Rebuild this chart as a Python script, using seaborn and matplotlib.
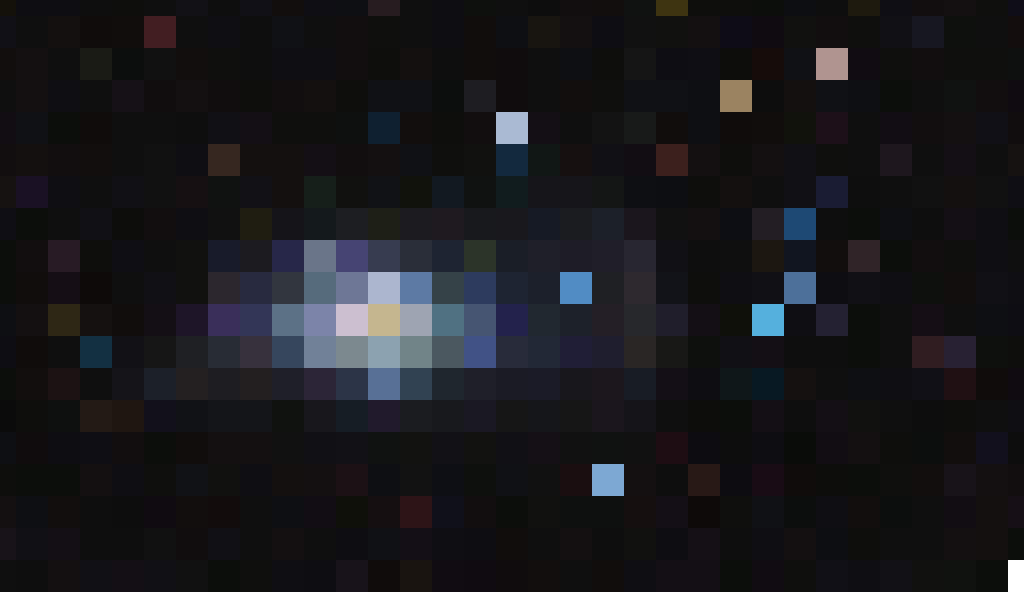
import numpy as np
import pandas as pd
import matplotlib
matplotlib.use("Agg")
import matplotlib.pyplot as plt
from matplotlib.colors import ListedColormap
import seaborn as sns

# --- DATA: mosaic tile colours, one list per row (19 rows x 33 columns) ---
r00 = "121008 0e0e10 0e0e10 0e0e0e 0e0e0c 0f0f0f 121214 0e0e0e 100f16 120e0e 0f0e14 0e0f12 241c1e 0f0f0f 0e0e10 0e100c 0f0f0f 0c0c0c 100e0f 130e0e 0f1110 3e3412 0e0f0c 0e0e0c 0c0e0c 0c0e10 0e0e0e 1e1a0c 0f0e14 120e0f 110f10 0f0f0c 0f0e16".split()
r01 = "100f16 0f0f0f 11100c 100c0c 0f0e0c 431e21 0f0f0f 0f0f11 0e0e0e 0f1112 0f0f0f 100e0f 0f0f0c 0f0f0f 0e0e10 100e0c 0e0f11 15140e 110f0f 0f0d14 111112 10100c 110f0f 0e0d15 0e0b0e 10100e 110e10 0f0f0e 100f14 171722 0c110e 0f0f0f 130e0c".split()
r02 = "120e0e 110f10 0f0f0f 1b1b16 0c0e0d 111111 100f0d 0f0f0d 0e0e0e 0f0f11 0f0f11 100e0f 0e0e0c 151010 0e0e0e 0f0e0a 0f0c0d 0e0f0e 0e0f10 0e0e0d 141414 0e0d14 0f0e14 0d0e0a 160d0b 0f1215 b09490 100c0f 0f0f0c 100e0f 0f0f0e 0f0f0e 0e0f0f".split()
r03 = "0e0f0e 110f10 0f0f11 0f0f0f 161117 0f0d0e 121011 0f0d0e 0e0f0c 110e10 11100c 0e0f0d 0e1013 0f1113 0c0e0d 1e1d22 100c0d 0f0f0f 100f0d 0f0f0c 0f1012 101113 0e0f12 9a8260 0c0d0c 120f0f 0f1112 0c1010 0b0d0b 0f0f0f 0f1010 100e0f 0e0c0f".split()
r04 = "100e10 0e1014 0c0e0c 100c0b 0f0f0f 0f0f0f 0e0e0e 100f14 110f12 0f100c 0f0f0e 0e0f0f 0f202e 100f0d 0e0e0c 100e0f aabad2 110f12 0f0f0f 131314 161b19 0f0e0c 0e0f12 0f0d0a 100e0c 12120c 1e1018 0f0f0f 100e14 110e0f 110f10 100f16 0f0d0d".split()
r05 = "100e0f 120f0e 100e0e 100f0c 0f0f0f 111111 0f0f11 342820 11100e 11100e 110f12 100e0f 120f10 0f1013 0f0f0d 10100e 112a3c 111714 16110e 100f14 110d10 3c201e 120f10 0e0e0c 110f0f 100f14 0f0f0e 0f0f10 1e181c 0f0f0f 120f12 0f0f0f 161210".split()
r06 = "151312 1a1222 0f0f11 0f0f0f 111113 111111 161012 0f1010 121114 130f0f 152019 10110f 101216 11120c 121820 101211 111c1e 161618 161618 141615 0e0f11 0d0e10 0e0f0d 11100e 0f0f0f 100f14 1a1c34 0e0e0e 0f0f0f 0f100f 120f0f 111111 0e0e14".split()
r07 = "0e0e14 0c0e0c 0f0f0f 101012 0c0c0a 100e0e 0f0f11 111111 1c1c10 141418 141a1c 1d1e20 1e2018 1c1b20 1c1a1e 171a1c 19191c 161a24 1a1b1e 1c2028 18161c 101010 110f0f 0c0e14 221e22 1c4a72 0e0e0e 0c0e0c 0e0f11 0e0e0e 110f12 0f0f11 0c0e0c".split()
r08 = "0c0e0c 100e0e 281a24 0e0e0c 0f0e14 0f0f0f 10100e 181c28 1c1c20 262646 6a7488 464470 383c50 2a2e38 1e2430 2c3428 1a1e26 1e2028 1e1c26 201e28 282630 111113 0e0e0e 0f0f0f 1c1810 10141e 110e0e 302428 0c0e0c 120e0f 0f0f0c 0f0f11 0f0f0f".split()
r09 = "0c0e0c 100d0c 150f14 0c0b09 0f0f0f 111014 10100e 2c262e 282a3e 32363e 566c7c 6c7894 aab6cc 5c7aa4 36444a 2c3c5e 1e2430 1c202a 528cc4 1e1f22 2c2a2e 121318 0e0f0c 0f0f11 100f11 4c709a 0e0e11 111113 0f0f11 0e100e 120e0e 100f13 0f0f12".split()
r10 = "0e0f11 110f10 2c2614 15110e 110d0d 140f14 1e1626 3a2e5a 343656 5c7086 7c84aa ccc0d0 c6b68e 9ea4b0 4e7080 465670 22224c 1e282e 1c2228 222026 26282c 201e2a 110f13 10100a 56b0dc 0f0f11 242232 0c0e0c 0f0f0f 140e12 0f0f0f 0e0f11 0e0d13".split()
r11 = "0e0d14 0e0d0b 0f0f0f 133042 121214 161616 1e1f22 282c34 36323e 36465c 708298 7c8a90 8ca2ae 708486 4a5a60 3e5284 282c38 222834 201e36 1c1e2e 282624 181816 0e100d 100f11 110f11 0e0e0e 0e0e0e 0c0e0c 0f0f0f 2e1c1e 262234 0e100e 0e0e0c".split()
r12 = "0c0e0c 120e0e 1a1112 0f0f0f 141418 1c2028 222020 1e1e20 201e1e 1c1f26 2a2638 2c3448 587096 324454 20262e 1e1e28 1a1c24 181a26 18181c 1a181c 181c24 121016 0e0e10 0f1818 081822 13120f 0f0f0f 0e0f11 0f0f11 100f16 1e1010 100c0c 0e0c0e".split()
r13 = "0c0b0b 0e0e0c 0e0f0f 221814 1e1410 12101a 111213 131416 131416 0f110f 18181a 141c24 201a2c 181c1e 161a1c 1a1822 161616 15161a 161616 18161c 141318 0f0f0f 0c0c0a 0c0e0c 110f12 0e0e0e 110f13 10100e 0f0f0f 0e0d0d 0e0e0c 0f0f0f 0f0f11".split()
r14 = "0e0f11 0e0c0c 0e0e10 0e0e14 100e0e 0c0e0c 0f0e0c 110f0f 110f0f 111111 111113 121216 101111 121210 121214 121210 111113 131113 111111 0e1211 101010 1c0e12 0c0c10 0c0c0c 0e0e10 0a0c0a 120d10 110f0f 0e0e0c 0c0e0e 120e0b 13101e 0c0c0c".split()
r15 = "0e0e0c 0c0e0c 0c0e0c 110f0f 0f0f11 0f0f0c 101214 10100e 0f0e12 13110e 110f0f 1a1214 0c1012 121212 0e0f14 0e100e 0f1012 101010 1a0e0e 7ca8d4 110f0f 0e0e0e 281816 0c0c10 180c12 0e0c0a 0c0c0a 0c0e0c 0f0f0d 120e0e 151316 110f0f 100e0e".split()
r16 = "110f0f 0e0f11 120e0b 0e0e0e 0c0c0c 0e0c0e 110e0e 120d0b 0f0f0f 0e0f11 100e14 10100a 150e10 2c1416 0e1218 120e10 0c0e0c 10100e 0e100f 0e100f 150f10 120e16 0c0b08 0f0f0c 0e1014 0c0e0d 0f0e10 110e0e 0c0e0d 0f0f0f 100e12 120f0f 161014".split()
r17 = "171216 0f0f14 120e12 0e0e0e 0e0e0e 111111 0f0d0d 0f0f14 0f0f0f 110f0f 0f0f0f 0e0e10 101113 120f16 0f0e10 0e0e10 0f0e0c 0f0f0f 110f0f 0f0e0e 10100c 0e0e10 131113 0e0e0e 0f0f11 110f0f 0c0e0f 0e0f0a 0f0f0f 0f0f0f 110f0f 11100c 0c0e0c".split()
r18 = "0e0f0e 0f0e0f 110f0f 100f14 130f12 100f14 111111 0c0e0c 0f0f0c 0f0f11 0e0e10 15121a 0e0c0a 18130f 0f0c12 0f0c0f 0e0c0c 120e0e 0f0f0f 100e0c 0f0f11 110f11 110f11 0c0e0c 110c12 0f0f0e 110f16 0f0f13 121113 10100c 101210 0c0e0c ffffff".split()
r19 = ["ffffff"] * 33  # white strip under the mosaic

rows = [r00, r01, r02, r03, r04, r05, r06, r07, r08, r09,
        r10, r11, r12, r13, r14, r15, r16, r17, r18, r19]

# edge tiles are half size (16 px units): first/last column, first/last row
col_span = [1] + [2] * 31 + [1]
row_span = [1] + [2] * 18 + [1]

# --- BUILD CODE MATRIX + PALETTE ---
palette = sorted({c for r in rows for c in r})
index = {c: k for k, c in enumerate(palette)}
codes = np.array([[index[c] for c in r] for r in rows])
codes = np.repeat(np.repeat(codes, row_span, axis=0), col_span, axis=1)
df = pd.DataFrame(codes)

cmap = ListedColormap(["#" + c for c in palette])

# --- PLOT ---
fig = plt.figure(figsize=(10.24, 6.08), dpi=100)
ax = fig.add_axes([0, 0, 1, 1])
sns.heatmap(df, cmap=cmap, vmin=-0.5, vmax=len(palette) - 0.5,
            cbar=False, xticklabels=False, yticklabels=False,
            linewidths=0, ax=ax)
ax.set_xlabel("")
ax.set_ylabel("")
ax.axis("off")

fig.savefig("out.png", dpi=100)
